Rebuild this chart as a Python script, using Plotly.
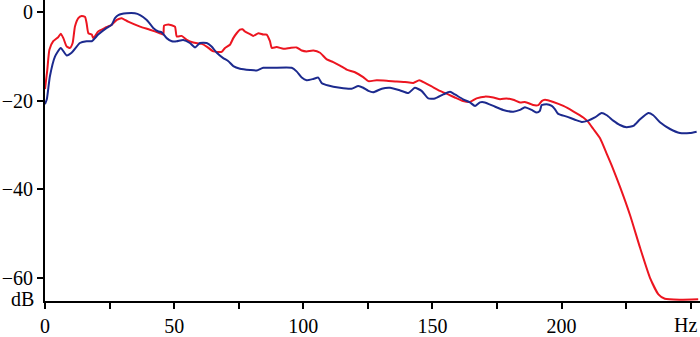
import plotly.graph_objects as go

blue_hz = [0, 0.7, 1.9, 3.9, 6.1, 8.4, 10.3, 13.5, 16.1, 18.1, 20.6, 23.9, 25.8, 27.1, 28.4, 31.6, 34.8, 36.8,
           39.4, 41.9, 43.9, 45.2, 47.1, 49.1, 51.0, 53.5, 56.1, 58.1, 60.0, 62.6, 64.5, 66.5, 69.0, 71.0, 72.9,
           75.5, 79.4, 82.0, 84.5, 88.4, 95.5, 97.4, 99.4, 101.3, 103.9, 105.8, 107.1, 109.7, 114.2, 118.7, 121.3,
           123.2, 125.2, 127.1, 130.4, 133.6, 137.5, 140.7, 143.2, 145.8, 148.4, 151.0, 154.2, 156.8, 158.7, 161.9,
           164.5, 166.5, 168.4, 170.3, 173.6, 177.4, 181.3, 183.9, 185.8, 188.4, 190.4, 191.6, 192.3, 194.2, 196.2,
           197.4, 198.7, 202.0, 205.2, 207.8, 210.3, 212.9, 215.5, 217.5, 220.0, 222.6, 225.2, 227.8, 230.4, 233.6,
           235.5, 238.1, 242.0, 245.8, 249.7, 252.3]
blue_db = [-20.8, -19.7, -14.5, -10.0, -8.1, -9.8, -9.2, -7.0, -6.6, -6.6, -5.1, -3.6, -2.9, -1.4, -0.7, -0.3, -0.3,
           -0.7, -1.8, -3.6, -4.4, -4.6, -5.9, -6.6, -6.6, -6.3, -7.0, -8.0, -7.0, -7.0, -7.8, -9.2, -10.4, -11.1,
           -12.2, -12.8, -13.1, -13.2, -12.6, -12.6, -12.6, -13.4, -14.8, -15.4, -15.1, -14.8, -16.0, -16.6, -17.1,
           -17.3, -16.7, -17.1, -17.8, -18.1, -17.3, -17.1, -17.7, -18.3, -17.1, -17.8, -19.5, -19.5, -18.6, -18.0,
           -18.6, -19.7, -20.4, -21.2, -20.4, -20.4, -21.2, -22.1, -22.5, -22.1, -21.5, -22.1, -22.7, -22.3, -21.0,
           -20.8, -21.2, -21.9, -23.0, -23.6, -24.3, -24.8, -24.5, -23.8, -22.8, -23.3, -24.5, -25.5, -26.0, -25.7,
           -24.2, -22.8, -23.3, -24.9, -26.4, -27.3, -27.3, -27.0]

red_hz = [0, 0.9, 1.7, 3.2, 5.1, 6.1, 7.1, 8.4, 9.7, 10.7, 11.6, 12.9, 14.2, 15.5, 16.1, 16.8, 18.1, 18.7, 20.6,
          23.2, 25.8, 27.8, 29.7, 32.2, 36.8, 40.6, 44.5, 45.8, 46.1, 47.7, 50.3, 51.0, 52.9, 54.9, 57.4, 60.7,
          62.6, 65.2, 68.4, 69.7, 71.6, 72.9, 74.2, 75.5, 76.5, 77.4, 79.4, 80.6, 82.6, 84.5, 85.8, 87.1, 87.8,
          89.7, 92.3, 94.9, 97.4, 99.4, 101.3, 103.9, 106.5, 109.1, 111.6, 114.2, 116.8, 120.0, 123.2, 125.2,
          128.4, 132.3, 136.2, 139.4, 142.6, 144.9, 147.1, 149.7, 152.9, 156.1, 158.7, 161.9, 164.5, 167.1,
          170.3, 173.6, 176.2, 178.7, 181.3, 183.9, 185.8, 187.8, 189.0, 191.0, 192.3, 193.6, 196.8, 200.7,
          204.5, 208.4, 210.3, 212.3, 214.9, 217.5, 219.4, 222.6, 226.5, 230.4, 234.2, 237.5, 240.0, 245.8, 252.9]
red_db = [-17.4, -13.0, -8.5, -6.6, -5.7, -4.9, -5.9, -7.8, -8.1, -7.0, -3.3, -1.4, -0.9, -1.1, -2.5, -4.8, -5.1,
          -5.9, -4.4, -3.6, -2.9, -1.8, -1.4, -2.2, -3.3, -4.0, -4.8, -5.1, -3.1, -2.8, -3.3, -5.5, -5.4, -6.3,
          -6.9, -7.2, -7.8, -8.9, -9.0, -8.1, -7.4, -5.9, -4.8, -4.0, -3.9, -4.4, -5.0, -5.4, -4.8, -5.1, -5.1,
          -6.6, -8.1, -7.9, -8.3, -8.1, -8.0, -8.7, -8.9, -8.7, -9.2, -10.7, -11.3, -12.1, -13.0, -13.6, -14.7,
          -15.6, -15.4, -15.5, -15.7, -15.8, -16.0, -15.4, -16.0, -16.8, -17.8, -18.6, -19.3, -20.1, -20.3,
          -19.5, -19.1, -19.3, -19.7, -19.5, -19.8, -20.4, -20.3, -20.7, -21.0, -21.0, -20.1, -19.8, -20.3,
          -21.2, -22.4, -23.8, -24.8, -26.4, -28.5, -32.0, -34.6, -39.4, -45.8, -53.2, -59.9, -63.7, -64.7,
          -64.9, -64.8]

x_tickvals = [0, 25, 50, 75, 100, 125, 150, 175, 200, 225, 250]
x_ticktext = ["0", "", "50", "", "100", "", "150", "", "200", "", ""]
y_tickvals = [-60, -40, -20, 0]
y_ticktext = ["\u221260", "\u221240", "\u221220", "0"]

fig = go.Figure()
fig.add_trace(go.Scatter(x=red_hz, y=red_db, mode="lines",
                         line=dict(color="#ec1520", width=2, shape="spline", smoothing=0.5)))
fig.add_trace(go.Scatter(x=blue_hz, y=blue_db, mode="lines",
                         line=dict(color="#1c2a8e", width=2, shape="spline", smoothing=0.5)))

font = dict(family="Liberation Serif", size=20, color="black")
fig.update_layout(
    width=700, height=337,
    margin=dict(l=45, r=0, t=0, b=34),
    paper_bgcolor="white", plot_bgcolor="white",
    showlegend=False,
    font=font,
    xaxis=dict(range=[0, 253.6], showline=True, linecolor="black", linewidth=2,
               ticks="outside", ticklen=6, tickwidth=1.5, tickcolor="black",
               tickvals=x_tickvals, ticktext=x_ticktext, showgrid=False, zeroline=False,
               tickfont=font),
    yaxis=dict(range=[-65.2, 2.7], showline=True, linecolor="black", linewidth=2,
               ticks="outside", ticklen=6, tickwidth=1.5, tickcolor="black",
               tickvals=y_tickvals, ticktext=y_ticktext, showgrid=False, zeroline=False,
               tickfont=font),
    annotations=[
        dict(text="Hz", xref="x", yref="paper", x=250, y=0, xanchor="center", yanchor="top",
             xshift=-5, yshift=-11, showarrow=False, font=font),
        dict(text="dB", xref="paper", yref="y", x=0, y=-65.2, xanchor="right", yanchor="middle",
             xshift=-9, yshift=2, showarrow=False, font=font),
    ],
)

fig.write_html("out.html", config={"displayModeBar": False},
               post_script="document.body.style.margin='0';document.body.style.overflow='hidden';")
